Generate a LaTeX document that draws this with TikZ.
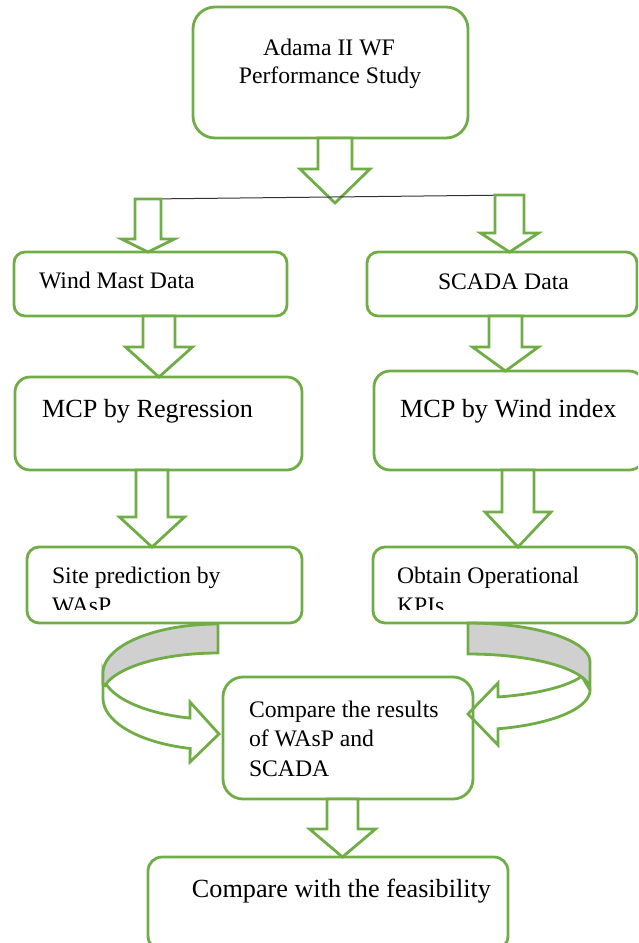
\documentclass[tikz,border=0pt]{standalone}
\usepackage{fontspec}
\setmainfont{Liberation Serif}
\usetikzlibrary{calc}
\definecolor{wgreen}{HTML}{70AD47}
\definecolor{bandgray}{HTML}{D0D0D0}
\definecolor{linegray}{HTML}{333333}
% #1 start coord, #2 end coord, #3 x centre, #4 shaft half width, #5 head half width, #6 head base y
\newcommand{\blockdown}[6]{%
  \draw[barrow] let \p1=(#1), \p2=(#2) in
    ({(#3-#4)*1pt},\y1) -- ({(#3+#4)*1pt},\y1) -- ({(#3+#4)*1pt},{-#6*1pt})
    -- ({(#3+#5)*1pt},{-#6*1pt}) -- ({#3*1pt},\y2) -- ({(#3-#5)*1pt},{-#6*1pt})
    -- ({(#3-#4)*1pt},{-#6*1pt}) -- cycle;}
\begin{document}
\begin{tikzpicture}[x=1pt,y=-1pt,
  box/.style={draw=wgreen, line width=2.8pt, inner sep=0pt, outer sep=0pt},
  barrow/.style={draw=wgreen, fill=white, line width=2.8pt, line join=miter},
  bandw/.style={draw=wgreen, fill=white, line width=2.8pt, line join=miter},
  bandg/.style={draw=wgreen, fill=bandgray, line width=2.8pt, line join=miter},
  txt/.style={inner sep=0pt, outer sep=0pt, text=black},
  fa/.style={font=\fontsize{23.7}{28}\selectfont},
  fb/.style={font=\fontsize{26.2}{30}\selectfont}]
\useasboundingbox (0,0) rectangle (638,943);
\clip (0,0) rectangle (638,943);

% ---- curved arrows (drawn first) ----
% left
\draw[bandw] (103,673)
  -- plot[domain=180:104,samples=40] ({218+115*cos(\x)},{698+52*sin(\x)})
  -- (190,762) -- (219,734) -- (190,702)
  -- plot[domain=104:165,samples=40] ({218+116*cos(\x)},{671.5+48*sin(\x)})
  -- cycle;
\draw[bandg] plot[domain=270:180,samples=40] ({218+115*cos(\x)},{673+49*sin(\x)})
  -- (103,684)
  -- plot[domain=193:270,samples=40] ({218+116*cos(\x)},{695+42*sin(\x)})
  -- cycle;
% right
\draw[bandw] (582.6,677.7) -- (590,690)
  -- plot[domain=0:75.8,samples=40] ({468+122*cos(\x)},{690+40*sin(\x)})
  -- (498,745) -- (468,714) -- (498,683)
  -- plot[domain=75.8:20.9,samples=40] ({468+122*cos(\x)},{664+34*sin(\x)})
  -- cycle;
\draw[bandg] plot[domain=270:360,samples=40] ({468+122*cos(\x)},{662+39*sin(\x)})
  -- (590,690)
  -- plot[domain=360:270,samples=40] ({468+122*cos(\x)},{690+36*sin(\x)})
  -- cycle;

% ---- boxes ----
\node[box, minimum width=275pt, minimum height=131pt, rounded corners=22pt] (tb) at (330.5,72.5) {};
\node[box, minimum width=273pt, minimum height=64pt, rounded corners=11pt] (wm) at (150.5,284) {};
\node[box, minimum width=270pt, minimum height=64pt, rounded corners=11pt] (sc) at (502,284) {};
\node[box, minimum width=287pt, minimum height=93pt, rounded corners=15pt] (mr) at (158.5,423.5) {};
\node[box, minimum width=271pt, minimum height=99pt, rounded corners=16pt] (mw) at (509.5,420.5) {};
\node[box, minimum width=275pt, minimum height=76pt, rounded corners=12pt] (sp) at (164.5,585) {};
\node[box, minimum width=264pt, minimum height=76pt, rounded corners=12pt] (ok) at (505,585) {};
\node[box, minimum width=250pt, minimum height=122pt, rounded corners=20pt] (cp) at (348,738) {};
\node[box, minimum width=360pt, minimum height=93pt, rounded corners=14pt] (fe) at (328,903.5) {};

% ---- junction line ----
\coordinate (jl) at (148,199);
\coordinate (jr) at (515,195);
\coordinate (jtip) at (335,203);

% ---- block arrows ----
\blockdown{tb.south}{jtip}{335}{17}{35}{169}
\draw[linegray, line width=1pt] (jl) -- (jr);
\blockdown{jl}{wm.north}{148}{13}{26.5}{239}
\blockdown{jr}{sc.north}{509.5}{14.5}{29}{233}
\blockdown{wm.south}{mr.north}{159}{16}{33.5}{347}
\blockdown{sc.south}{mw.north}{505.5}{16.5}{33}{347}
\blockdown{mr.south}{sp.north}{152}{16}{32.5}{517}
\blockdown{mw.south}{ok.north}{518}{16}{33}{512}
\blockdown{cp.south}{fe.north}{342.5}{15.5}{33}{829}

% ---- texts ----
\node[txt, fa, anchor=base] (t1) at (329,55) {Adama II WF};
\node[txt, fa, anchor=base] (t2) at (330,83) {Performance Study};
\node[txt, fa, anchor=base west] (t3) at (39,288) {Wind Mast Data};
\node[txt, fa, anchor=base] (t4) at (503.5,289) {SCADA Data};
\node[txt, fb, anchor=base west] (t5) at (42,417) {MCP by Regression};
\node[txt, fb, anchor=base west] (t6) at (400,417) {MCP by Wind index};
\begin{scope}
  \clip (0,0) rectangle (638,609);
  \node[txt, fa, anchor=base west] (t7) at (52,583) {Site prediction by};
  \node[txt, fa, anchor=base west] (t8) at (52,613) {WAsP};
  \node[txt, fa, anchor=base west] (t9) at (397,583) {Obtain Operational};
  \node[txt, fa, anchor=base west] (t10) at (397,613) {KPIs};
\end{scope}
\node[txt, fa, anchor=base west] (t11) at (249,717) {Compare the results};
\node[txt, fa, anchor=base west] (t12) at (249,746) {of WAsP and};
\node[txt, fa, anchor=base west] (t13) at (249,776) {SCADA};
\node[txt, fb, anchor=base] (t14) at (341.5,897) {Compare with the feasibility};
\end{tikzpicture}
\end{document}
